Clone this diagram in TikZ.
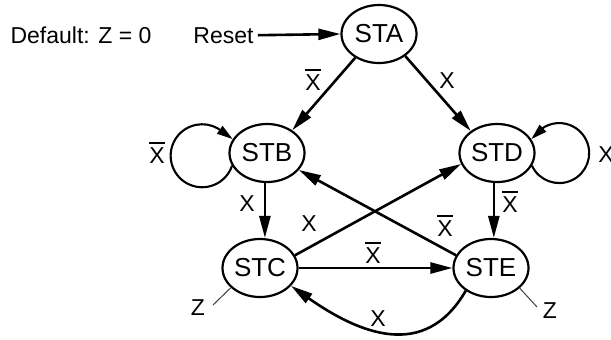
\documentclass[tikz,border=0pt]{standalone}
\usepackage{fontspec}
\setmainfont{Liberation Sans}
\usetikzlibrary{shapes.geometric,arrows.meta}
% X with a bar over it (negated input)
\newsavebox{\xbox}
\newcommand{\xbar}{\sbox{\xbox}{X}\rlap{\raisebox{\dimexpr\ht\xbox+1.6pt\relax}{\rule{\wd\xbox}{0.8pt}}}X}
\tikzset{
  state/.style={ellipse, draw, line width=1.1pt, minimum width=37.5pt,
    minimum height=29pt, inner sep=0pt, font=\fontsize{13}{15}\selectfont},
  arr/.style={-{Triangle[length=11pt,width=5.5pt]}, line width=1.3pt},
  looparr/.style={-{Triangle[length=8pt,width=4.6pt]}, line width=1.05pt},
  lbl/.style={anchor=base, inner sep=0pt},
  zline/.style={line width=0.5pt, black!75}
}
\begin{document}
\begin{tikzpicture}[x=0.5pt, y=0.5pt,
  every node/.style={font=\fontsize{11.5}{13}\selectfont}]
\useasboundingbox (0,0) rectangle (611,-339);

% states
\node[state] (sta) at (379,-34) {STA};
\node[state] (stb) at (267,-153) {STB};
\node[state] (std) at (497,-153) {STD};
\node[state] (stc) at (260,-268) {STC};
\node[state] (ste) at (491,-268) {STE};

% header texts
\node[lbl] (dflt) at (81,-43) {Default: Z = 0};
\node[lbl, inner sep=2pt] (reset) at (223.5,-43) {Reset};

% reset transition
\draw[arr] (reset.east) -- (sta.west);

% transitions
\draw[arr] (sta.225) -- (stb.42);
\draw[arr] (sta.-40) -- (std.140);
\draw[arr] (stb.266) -- (stb.266 |- stc.north);
\draw[arr] (std.264) -- (std.264 |- ste.north);
\draw[arr] (stc.20) -- (std.197);
\draw[arr] (ste.160) -- (stb.-28);
\draw[arr] (stc.east) -- (ste.west);
\draw[arr] (ste.222) to[out=240, in=-35, looseness=1.2] (stc.-30);

% self loops: round arc, then a short straight run into the state
\draw[looparr] (stb.200) arc[start angle=-18.5, end angle=-300, radius=31.5] -- (stb.158);
\draw[looparr] (std.-20) arc[start angle=205, end angle=480, radius=30] -- (std.22);

% transition labels
\node[lbl] (l1) at (313,-90) {\xbar};
\node[lbl] (l2) at (447,-88) {X};
\node[lbl] (l3) at (157,-163) {\xbar};
\node[lbl, anchor=base west] (l4) at (598,-162) {X};
\node[lbl] (l5) at (247,-211) {X};
\node[lbl] (l6) at (510,-212) {\xbar};
\node[lbl] (l7) at (309,-231) {X};
\node[lbl] (l8) at (445,-236) {\xbar};
\node[lbl] (l9) at (373,-263) {\xbar};
\node[lbl] (l10) at (378,-326) {X};

% outputs
\node[lbl] (zc) at (198,-315) {Z};
\node[lbl] (ze) at (550,-318) {Z};
\coordinate (zcend) at (213,-305);
\coordinate (zeend) at (537,-307);
\draw[zline] (stc.214) -- (zcend);
\draw[zline] (ste.-35) -- (zeend);
\end{tikzpicture}
\end{document}
